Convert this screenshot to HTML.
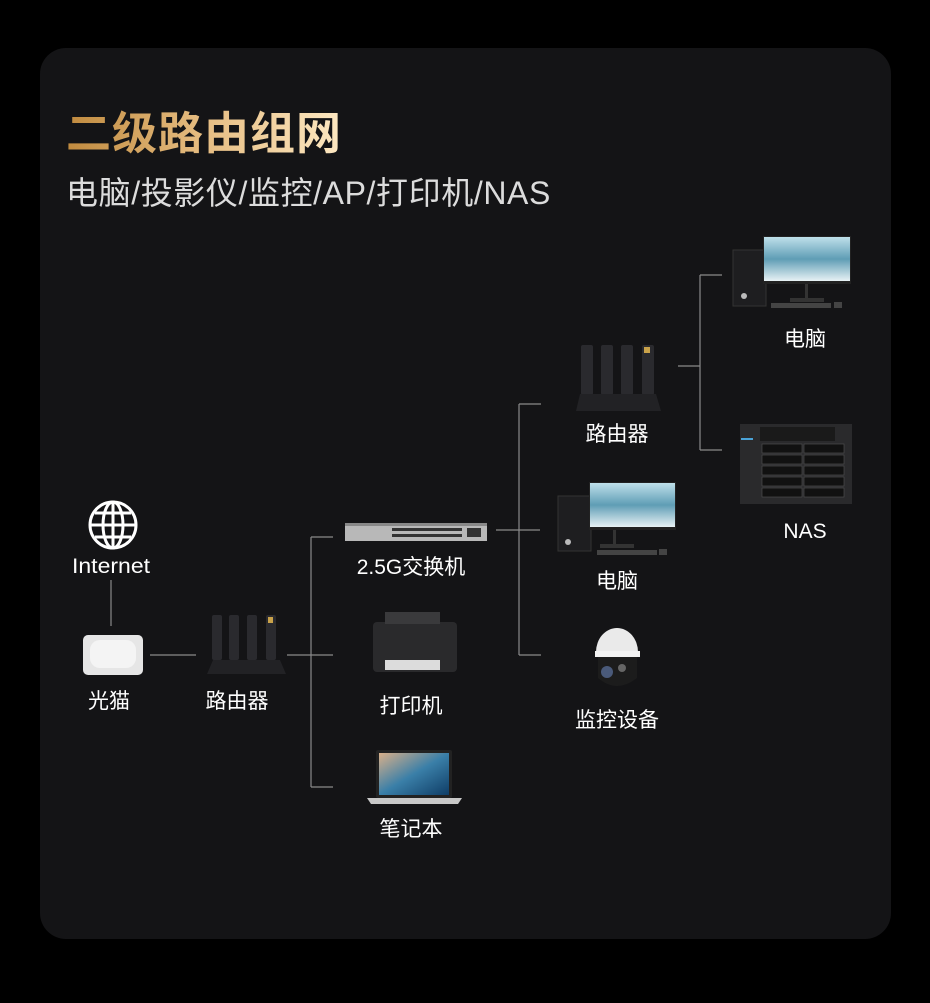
<!DOCTYPE html>
<html><head><meta charset="utf-8"><style>
html,body{margin:0;padding:0;background:#000;}
body{width:930px;height:1003px;position:relative;overflow:hidden;font-family:"Liberation Sans","Noto Sans CJK SC",sans-serif;}
.card{position:absolute;left:40px;top:48px;width:851px;height:891px;background:#141416;border-radius:26px;}
.t{position:absolute;left:66px;top:100px;font-size:45px;font-weight:bold;letter-spacing:1px;background:linear-gradient(90deg,#c08a3e,#e6bd82 50%,#fde8c2);-webkit-background-clip:text;background-clip:text;color:transparent;font-family:"Noto Sans CJK SC",sans-serif;line-height:60px}
.s{position:absolute;left:66px;top:171px;font-size:32px;letter-spacing:0.6px;color:#dcdcdc;line-height:44px;font-family:"Liberation Sans","Noto Sans CJK SC",sans-serif}
svg{position:absolute;left:0;top:0}
</style></head><body>
<div class="card"></div>
<div class="t">二级路由组网</div>
<div class="s">电脑/投影仪/监控/AP/打印机/NAS</div>
<svg width="930" height="1003" viewBox="0 0 930 1003" font-family="Liberation Sans, Noto Sans CJK SC, sans-serif">
<defs>
<linearGradient id="sky" x1="0" y1="0" x2="0" y2="1"><stop offset="0" stop-color="#bfe0ea"/><stop offset="0.5" stop-color="#5f9db5"/><stop offset="1" stop-color="#e8f2f5"/></linearGradient>
<linearGradient id="sea" x1="0" y1="0" x2="1" y2="1"><stop offset="0" stop-color="#d9b08a"/><stop offset="0.5" stop-color="#3a7fa8"/><stop offset="1" stop-color="#0f3d66"/></linearGradient>
</defs>
<g stroke="#8a8a8a" stroke-width="1.2" fill="none">
<path d="M111 580V626"/>
<path d="M150 655H196"/>
<path d="M287 655H333M311 537V787M311 537H333M311 787H333"/>
<path d="M496 530H540M519 404V655M519 404H541M519 655H541"/>
<path d="M678 366H700M700 275V450M700 275H722M700 450H722"/>
</g>
<g stroke="#fff" stroke-width="3" fill="none">
<circle cx="113" cy="525" r="23"/><ellipse cx="113" cy="525" rx="10" ry="23"/>
<path d="M90 525H136M113 502V548M95 513H131M95 537H131"/>
</g>
<rect x="83" y="635" width="60" height="40" rx="5" fill="#e6e6e6"/>
<rect x="90" y="640" width="46" height="28" rx="10" fill="#f4f4f4"/>
<g fill="#2a2a2e"><rect x="212" y="615" width="10" height="45" rx="2"/><rect x="229" y="615" width="10" height="45" rx="2"/><rect x="247" y="615" width="10" height="45" rx="2"/><rect x="266" y="615" width="10" height="45" rx="2"/><path d="M213 660H280L286 674H207Z" fill="#222225"/></g>
<rect x="268" y="617" width="5" height="6" fill="#c9a24a"/>
<rect x="345" y="523" width="142" height="18" fill="#b8b8b8"/><rect x="345" y="523" width="142" height="3" fill="#888"/>
<g fill="#333"><rect x="392" y="528" width="70" height="3"/><rect x="392" y="534" width="70" height="3"/><rect x="467" y="528" width="14" height="9"/></g>
<rect x="373" y="622" width="84" height="50" rx="4" fill="#2a2a2c"/><rect x="385" y="612" width="55" height="12" fill="#3a3a3c"/>
<rect x="385" y="660" width="55" height="10" fill="#dcdcdc"/>
<rect x="376" y="750" width="76" height="48" rx="2" fill="#222"/><rect x="379" y="753" width="70" height="42" fill="url(#sea)"/>
<path d="M367 798H462L458 804H371Z" fill="#c8c8c8"/>
<g fill="#2a2a2e"><rect x="581" y="345" width="12" height="50" rx="2"/><rect x="601" y="345" width="12" height="50" rx="2"/><rect x="621" y="345" width="12" height="50" rx="2"/><rect x="642" y="345" width="12" height="50" rx="2"/><path d="M580 394H656L661 411H576Z" fill="#222225"/></g>
<rect x="644" y="347" width="6" height="6" fill="#c9a24a"/>
<rect x="558" y="496" width="33" height="55" fill="#1e1e20" stroke="#333"/><circle cx="568" cy="542" r="3" fill="#bbb"/>
<rect x="589" y="482" width="87" height="48" fill="#222"/><rect x="590" y="483" width="85" height="44" fill="url(#sky)"/>
<rect x="613" y="530" width="3" height="14" fill="#333"/><rect x="600" y="544" width="34" height="4" fill="#333"/>
<rect x="597" y="550" width="60" height="5" fill="#444"/><rect x="659" y="549" width="8" height="6" fill="#444"/>
<rect x="733" y="250" width="33" height="56" fill="#1e1e20" stroke="#333"/><circle cx="744" cy="296" r="3" fill="#bbb"/>
<rect x="763" y="236" width="88" height="48" fill="#222"/><rect x="764" y="237" width="86" height="44" fill="url(#sky)"/>
<rect x="805" y="284" width="3" height="14" fill="#333"/><rect x="790" y="298" width="34" height="4" fill="#333"/>
<rect x="771" y="303" width="60" height="5" fill="#444"/><rect x="834" y="302" width="8" height="6" fill="#444"/>
<rect x="740" y="424" width="112" height="80" fill="#2a2a2c"/><rect x="760" y="427" width="75" height="14" fill="#1a1a1a"/>
<g fill="#111" stroke="#555" stroke-width="0.6">
<rect x="762" y="444" width="40" height="9"/><rect x="804" y="444" width="40" height="9"/><rect x="762" y="455" width="40" height="9"/><rect x="804" y="455" width="40" height="9"/><rect x="762" y="466" width="40" height="9"/><rect x="804" y="466" width="40" height="9"/><rect x="762" y="477" width="40" height="9"/><rect x="804" y="477" width="40" height="9"/><rect x="762" y="488" width="40" height="9"/><rect x="804" y="488" width="40" height="9"/></g>
<rect x="741" y="438" width="12" height="2" fill="#4aa3d8"/>
<path d="M596 652A21 24 0 0 1 638 652Z" fill="#eaeaea"/><rect x="595" y="651" width="45" height="6" fill="#f2f2f2"/>
<path d="M598 657H637V678Q617 694 598 678Z" fill="#1c1c1c"/><circle cx="607" cy="672" r="6" fill="#4a5a7a"/><circle cx="622" cy="668" r="4" fill="#666"/>
<g fill="#fff" font-size="21" text-anchor="middle">
<text x="111" y="573" textLength="78" lengthAdjust="spacingAndGlyphs">Internet</text>
<text x="109" y="708">光猫</text>
<text x="237" y="708">路由器</text>
<text x="411" y="574">2.5G交换机</text>
<text x="411" y="713">打印机</text>
<text x="411" y="836">笔记本</text>
<text x="617" y="441">路由器</text>
<text x="617" y="588">电脑</text>
<text x="617" y="727">监控设备</text>
<text x="805" y="346">电脑</text>
<text x="805" y="538">NAS</text>
</g>
</svg>
</body></html>
